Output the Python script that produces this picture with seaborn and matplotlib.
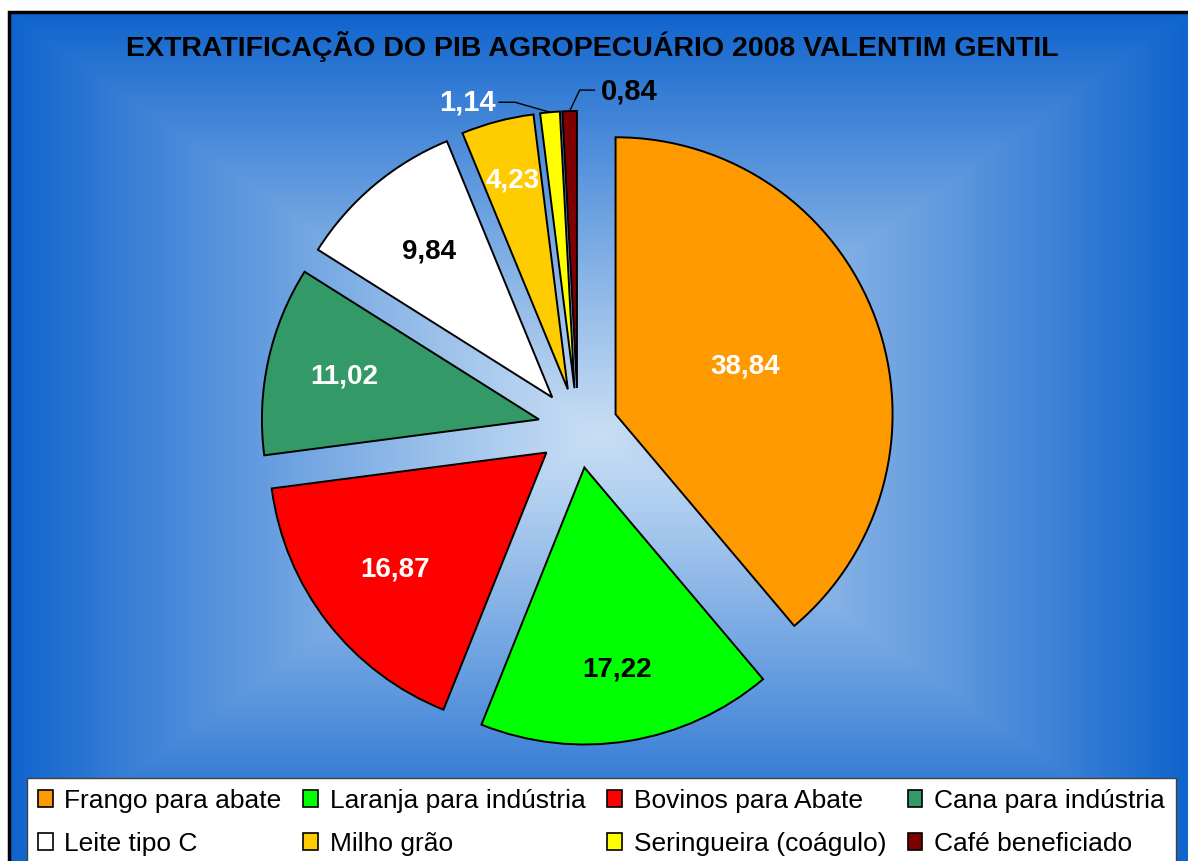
import numpy as np
import seaborn as sns
import matplotlib.pyplot as plt
from matplotlib.patches import Rectangle, Patch

# dados
categorias = ["Frango para abate", "Laranja para indústria", "Bovinos para Abate",
              "Cana para indústria", "Leite tipo C", "Milho grão",
              "Seringueira (coágulo)", "Café beneficiado"]
valores = [38.84, 17.22, 16.87, 11.02, 9.84, 4.23, 1.14, 0.84]
cores = ["#FF9900", "#00FF00", "#FF0000", "#339966", "#FFFFFF", "#FFCC00", "#FFFF00", "#800000"]
cor_texto = ["white", "black", "white", "white", "black", "white", "white", "black"]
titulo = "EXTRATIFICAÇÃO DO PIB AGROPECUÁRIO 2008 VALENTIM GENTIL"

sns.set_theme(style="white")
plt.rcParams['font.family'] = ['Liberation Sans', 'DejaVu Sans']

W, H = 1188, 861
fig = plt.figure(figsize=(W / 100, H / 100), dpi=100)
fig.patch.set_facecolor("white")
ax = fig.add_axes([0, 0, 1, 1])

# fundo com gradiente retangular (claro no centro, azul nas bordas)
centro = np.array([200, 222, 244]) / 255
borda = np.array([16, 100, 205]) / 255
X, Y = np.meshgrid(np.linspace(-1, 1, 400), np.linspace(-1, 1, 300))
t = np.maximum(np.abs(X), np.abs(Y))[..., None] ** 1.1
grad = centro * (1 - t) + borda * t
ax.imshow(grad, extent=(9, W, 0, H - 12), origin="lower", aspect="auto",
          interpolation="bilinear", zorder=0)
ax.add_patch(Rectangle((9, -10), W + 10, H - 12 + 10, fill=False,
                       edgecolor="black", linewidth=2.5, zorder=1))

# pizza explodida, sentido horario a partir do topo
raio = 277
wedges, _ = ax.pie(valores, colors=cores, startangle=90, counterclock=False,
                   radius=raio, center=(578, H - 428), explode=[40] * len(valores),
                   wedgeprops=dict(edgecolor="black", linewidth=1.4), frame=True)
for w in wedges:
    w.set_zorder(2)

rotulos = [f"{v:.2f}".replace(".", ",") for v in valores]
dist = [0.5, 0.74, 0.69, 0.72, 0.69, 0.78]
for i, w in enumerate(wedges):
    ang = np.deg2rad((w.theta1 + w.theta2) / 2)
    cx, cy = w.center
    if i < len(dist):
        ax.text(cx + dist[i] * raio * np.cos(ang), cy + dist[i] * raio * np.sin(ang),
                rotulos[i], ha="center", va="center", fontsize=20,
                fontweight="bold", color=cor_texto[i], zorder=3)
    else:
        # pontas das fatias pequenas com linha de chamada
        px, py = cx + raio * np.cos(ang), cy + raio * np.sin(ang)
        if i == 6:
            xs = [px, px - 35, px - 51]
            ys = [py, py + 10, py + 10]
            ax.text(xs[-1] - 3, ys[-1], rotulos[i], ha="right", va="center",
                    fontsize=21, fontweight="bold", color=cor_texto[i], zorder=3)
        else:
            xs = [px, px + 10, px + 25]
            ys = [py, py + 21, py + 21]
            ax.text(xs[-1] + 6, ys[-1] - 1, rotulos[i], ha="left", va="center",
                    fontsize=21, fontweight="bold", color=cor_texto[i], zorder=3)
        ax.plot(xs, ys, color="black", linewidth=1, zorder=3)

ax.set_xlim(0, W)
ax.set_ylim(0, H)
ax.set_aspect("equal")
ax.axis("off")

ax.text(592, H - 47, titulo, ha="center", va="center", fontsize=20.5,
        fontweight="bold", color="black", zorder=3)

# legenda em 2 linhas x 4 colunas (ordem por linha)
handles = [Patch(facecolor=c, edgecolor="black", linewidth=1.2) for c in cores]
ordem = [0, 4, 1, 5, 2, 6, 3, 7]
leg = fig.legend([handles[k] for k in ordem], [categorias[k] for k in ordem],
                 loc="upper left", bbox_to_anchor=(27 / W, -0.1, 1149 / W, 0.1 + 1 - 778 / H),
                 mode="expand", ncol=4, fontsize=19, frameon=True, fancybox=False,
                 shadow=False, framealpha=1, facecolor="white", edgecolor="#404040",
                 borderpad=0.42, handlelength=0.55, handleheight=0.6, handletextpad=0.45,
                 labelspacing=0.7, borderaxespad=0, columnspacing=0.5, labelcolor="black")
leg.get_frame().set_linewidth(1)

fig.savefig("out.png", dpi=100)
